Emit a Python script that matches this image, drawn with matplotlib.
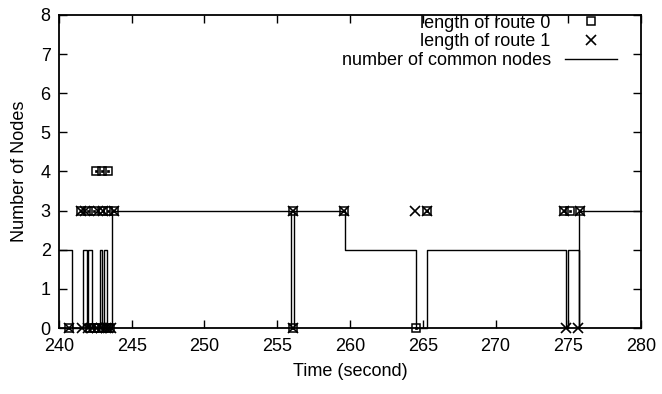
import matplotlib
matplotlib.use("Agg")
import matplotlib.pyplot as plt

plt.rcParams['font.family'] = ['Liberation Sans', 'DejaVu Sans']

# common nodes (step function, post)
common_t = [240, 240.87, 241.62, 241.90, 242.01, 242.29, 242.82, 242.98, 243.11, 243.28,
            243.62, 255.95, 256.15, 259.66, 264.54, 265.27, 274.82, 275.00, 275.72, 275.76, 280]
common_v = [2, 0, 2, 0, 2, 0, 2, 0, 2, 0,
            3, 0, 3, 2, 0, 2, 0, 2, 0, 3, 3]

# length of route 0
route0_t = [240.7, 242.1, 242.4, 242.7, 243.0, 243.3, 243.5,
            241.5, 242.0, 242.4, 243.0, 243.4, 243.75,
            242.55, 242.95, 243.35,
            256.05, 256.05, 259.6, 264.54, 265.27, 274.7, 275.1, 275.8]
route0_v = [0, 0, 0, 0, 0, 0, 0,
            3, 3, 3, 3, 3, 3,
            4, 4, 4,
            3, 0, 3, 0, 3, 3, 3, 3]

# length of route 1
route1_t = [240.7, 241.6, 242.0, 242.3, 242.6, 242.9, 243.2, 243.4, 243.6,
            241.5, 241.8, 242.7, 243.0, 243.75,
            256.05, 256.05, 259.6, 264.47, 265.27, 274.7, 275.8, 274.82, 275.69]
route1_v = [0, 0, 0, 0, 0, 0, 0, 0, 0,
            3, 3, 3, 3, 3,
            3, 0, 3, 3, 3, 3, 3, 0, 0]

fig = plt.figure(figsize=(6.62, 3.94), dpi=100)
ax = fig.add_axes([0.0891, 0.1675, 0.9683 - 0.0891, 0.962 - 0.1675])

ax.plot(common_t, common_v, drawstyle='steps-post', color='black', lw=1.0,
        label='number of common nodes', zorder=2, clip_on=False)
ax.plot(route0_t, route0_v, ls='none', marker='s', ms=5.5, mfc='none', mec='black',
        mew=1.1, label='length of route 0', zorder=3, clip_on=False)
ax.plot(route0_t, route0_v, ls='none', marker='s', ms=1.5, mfc='black', mec='black',
        mew=0.5, zorder=3, clip_on=False)
ax.plot(route1_t, route1_v, ls='none', marker='x', ms=6.5, mec='black', mew=1.2,
        label='length of route 1', zorder=3, clip_on=False)

ax.set_xlim(240, 280)
ax.set_ylim(0, 8)
ax.set_xticks(range(240, 281, 5))
ax.set_yticks(range(0, 9))
ax.tick_params(direction='in', length=6, width=1, top=True, right=True, labelsize=13)
ax.tick_params(axis='x', pad=7)
ax.tick_params(axis='y', pad=6)
for s in ax.spines.values():
    s.set_linewidth(1.3)
ax.set_xlabel('Time (second)', fontsize=13, labelpad=6)
ax.set_ylabel('Number of Nodes', fontsize=13, labelpad=9)

h, l = ax.get_legend_handles_labels()
order = [1, 2, 0]
leg = ax.legend([h[i] for i in order], [l[i] for i in order], loc='upper right',
                bbox_to_anchor=(0.975, 1.03), frameon=False, markerfirst=False,
                fontsize=13, handlelength=2.9, labelspacing=0.1, borderaxespad=0.1,
                handletextpad=0.8)

fig.savefig('out.png', dpi=100)
